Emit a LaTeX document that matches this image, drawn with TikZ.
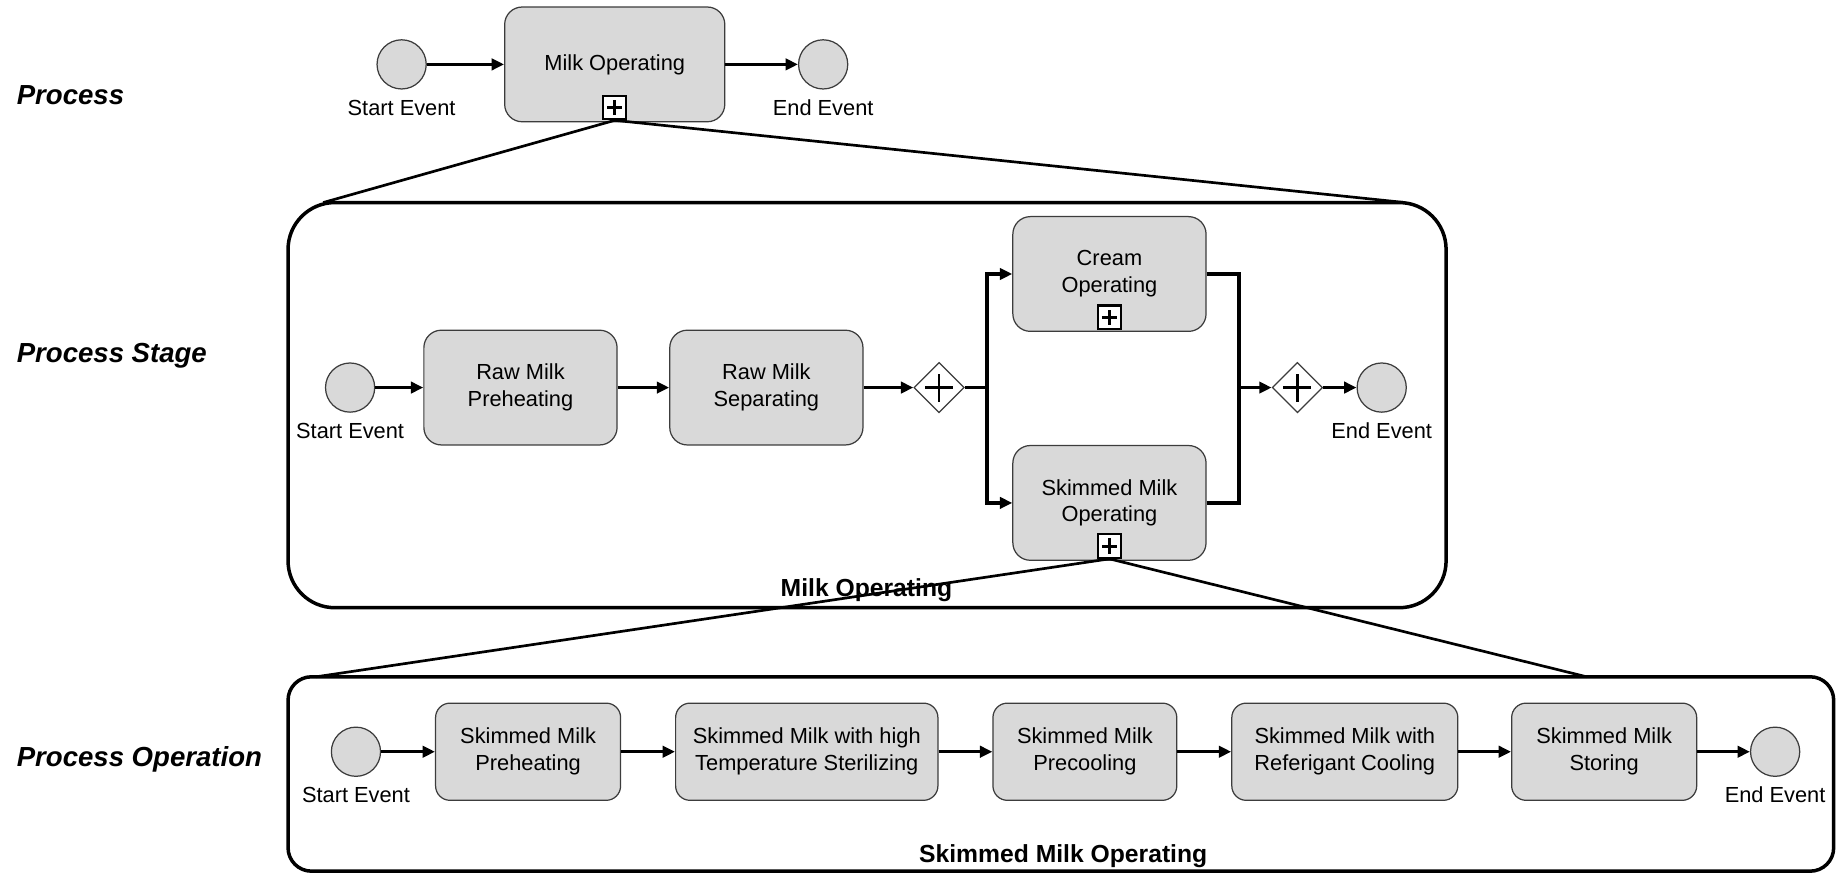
\documentclass[tikz,border=0pt]{standalone}
\usepackage{fontspec}
\setmainfont{Liberation Sans}
\usetikzlibrary{shapes.geometric, positioning, arrows.meta}

\definecolor{taskgray}{RGB}{217,217,217}
\definecolor{edgegray}{RGB}{60,60,60}

\begin{document}
\begin{tikzpicture}[
    font=\fontsize{10.6}{13}\selectfont,
    event/.style={circle, draw=edgegray, fill=taskgray, line width=0.6pt, minimum size=0.84cm, inner sep=0pt},
    task/.style={rectangle, draw=edgegray, fill=taskgray, line width=0.6pt, rounded corners=8.5pt, minimum width=3.3cm, minimum height=1.96cm, align=center},
    optask/.style={task, minimum height=1.66cm, rounded corners=7pt},
    gate/.style={diamond, draw=edgegray, fill=white, line width=0.6pt, minimum size=0.86cm, inner sep=0pt,
        path picture={\draw[black, line width=1.2pt] (path picture bounding box.center) ++(-0.24,0) -- ++(0.48,0)
            (path picture bounding box.center) ++(0,-0.24) -- ++(0,0.48);}},
    submark/.style={rectangle, draw=black, fill=white, line width=1pt, minimum size=0.4cm, inner sep=0pt,
        path picture={\draw[black, line width=1.5pt] (path picture bounding box.center) ++(-0.13,0) -- ++(0.26,0)
            (path picture bounding box.center) ++(0,-0.13) -- ++(0,0.26);}},
    container/.style={draw=black, line width=1.7pt, inner sep=0pt},
    flow/.style={-{Triangle[length=6pt,width=5.5pt]}, line width=1.6pt},
    seq/.style={line width=1.6pt},
    zoomline/.style={line width=1.3pt},
    level/.style={anchor=west, inner xsep=0pt, font=\fontsize{13.4}{16}\selectfont\bfseries\itshape},
    boxtitle/.style={font=\fontsize{12}{14}\selectfont\bfseries}
]

\useasboundingbox (0,0) rectangle (31.36,14.92);

% Level names
\node[level] (lvproc) at (0.28,13.30) {Process};
\node[level] (lvstage) at (0.28,8.85) {Process Stage};
\node[level] (lvop) at (0.28,1.95) {Process Operation};

% Process
\node[event] (s0) at (6.86,13.82) {};
\node[task, minimum width=3.76cm] (milk) at (10.5,13.82) {Milk Operating};
\node[event] (e0) at (14.06,13.82) {};
\node[below=0.05cm of s0] (s0lab) {Start Event};
\node[below=0.05cm of e0] (e0lab) {End Event};
\node[submark, anchor=south] (milkmark) at ([yshift=1pt]milk.south) {};

\draw[flow] (s0) -- (milk);
\draw[flow] (milk) -- (e0);

% Process stage
\node[container, rounded corners=0.8cm, minimum width=19.78cm, minimum height=6.92cm] (stagebox) at (14.81,8.0) {};
\node[boxtitle] (stagetitle) at (14.8,4.84) {Milk Operating};

\node[event] (s1) at (5.98,8.30) {};
\node[below=0.05cm of s1] (s1lab) {Start Event};
\node[task] (rmp) at (8.89,8.30) {Raw Milk\\Preheating};
\node[task] (rms) at (13.09,8.30) {Raw Milk\\Separating};
\node[gate] (g1) at (16.04,8.30) {};
\node[task] (cream) at (18.95,10.24) {Cream\\Operating};
\node[task] (skim) at (18.95,6.33) {Skimmed Milk\\Operating};
\node[gate] (g2) at (22.16,8.30) {};
\node[event] (e1) at (23.6,8.30) {};
\node[below=0.05cm of e1] (e1lab) {End Event};
\node[submark, anchor=south] (creammark) at ([yshift=1pt]cream.south) {};
\node[submark, anchor=south] (skimmark) at ([yshift=1pt]skim.south) {};

\coordinate (split) at (16.86,8.30);
\coordinate (join) at (21.16,8.30);

\draw[flow] (s1) -- (rmp);
\draw[flow] (rmp) -- (rms);
\draw[flow] (rms) -- (g1);
\draw[seq] (g1.east) -- (split);
\draw[flow] (split) |- (cream.west);
\draw[flow] (split) |- (skim.west);
\draw[seq] (cream.east) -| (join);
\draw[seq] (skim.east) -| (join);
\draw[flow] (join) -- (g2.west);
\draw[flow] (g2) -- (e1);

% Process operation
\node[container, rounded corners=0.4cm, minimum width=26.4cm, minimum height=3.32cm] (opbox) at (18.12,1.70) {};
\node[boxtitle] (optitle) at (18.16,0.30) {Skimmed Milk Operating};

\node[event] (s2) at (6.08,2.08) {};
\node[below=0.05cm of s2] (s2lab) {Start Event};
\node[optask, minimum width=3.16cm] (op1) at (9.02,2.08) {Skimmed Milk\\Preheating};
\node[optask, minimum width=4.48cm] (op2) at (13.78,2.08) {Skimmed Milk with high\\Temperature Sterilizing};
\node[optask, minimum width=3.14cm] (op3) at (18.53,2.08) {Skimmed Milk\\Precooling};
\node[optask, minimum width=3.86cm] (op4) at (22.97,2.08) {Skimmed Milk with\\Referigant Cooling};
\node[optask, minimum width=3.16cm] (op5) at (27.4,2.08) {Skimmed Milk\\Storing};
\node[event] (e2) at (30.32,2.08) {};
\node[below=0.05cm of e2] (e2lab) {End Event};

\draw[flow] (s2) -- (op1);
\draw[flow] (op1) -- (op2);
\draw[flow] (op2) -- (op3);
\draw[flow] (op3) -- (op4);
\draw[flow] (op4) -- (op5);
\draw[flow] (op5) -- (e2);

% Expansion lines
\coordinate (stagel) at (5.52,11.46);
\coordinate (stager) at (24.0,11.46);
\coordinate (opl) at (5.4,3.36);
\coordinate (opr) at (27.1,3.36);
\draw[zoomline] (stagel) -- (milkmark.south) -- (stager);
\draw[zoomline] (opl) -- (skimmark.south) -- (opr);

\end{tikzpicture}
\end{document}
